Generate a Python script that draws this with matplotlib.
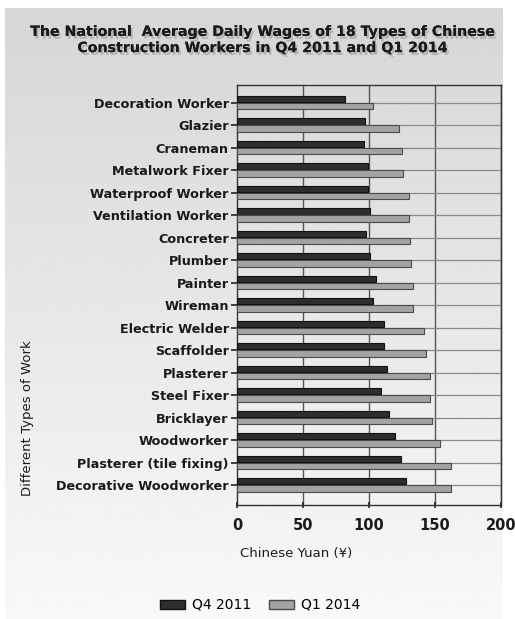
import numpy as np
import matplotlib
matplotlib.use("Agg")
import matplotlib.pyplot as plt
import matplotlib.patheffects as pe
from matplotlib.patches import Patch

# ---- data ----
work_types = [
    "Decoration Worker", "Glazier", "Craneman", "Metalwork Fixer",
    "Waterproof Worker", "Ventilation Worker", "Concreter", "Plumber",
    "Painter", "Wireman", "Electric Welder", "Scaffolder", "Plasterer",
    "Steel Fixer", "Bricklayer", "Woodworker", "Plasterer (tile fixing)",
    "Decorative Woodworker",
]
wage_q4_2011 = [82, 97, 96, 99, 99, 101, 98, 101, 105, 103, 111, 111, 114, 109, 115, 120, 124, 128]
wage_q1_2014 = [103, 123, 125, 126, 130, 130, 131, 132, 133, 133, 142, 143, 146, 146, 148, 154, 162, 162]
series_names = ["Q4 2011", "Q1 2014"]
x_ticks = [0, 50, 100, 150, 200]

W, H = 515, 619
fig = plt.figure(figsize=(W / 100, H / 100), dpi=100, facecolor="white")

# gradient backdrop
bg = fig.add_axes([5 / W, 0, (503 - 5) / W, (H - 8) / H], zorder=-5)
grad = np.linspace(0.84, 0.975, 256).reshape(-1, 1)
bg.imshow(grad, cmap="gray", vmin=0, vmax=1, aspect="auto", extent=[0, 1, 0, 1], origin="upper")
bg.axis("off")

ax = fig.add_axes([237 / W, 1 - 505 / H, 264 / W, 420 / H])
ax.patch.set_alpha(0)

y = np.arange(len(work_types))
h = 0.28
ax.barh(y - 0.17, wage_q4_2011, height=h, color="#2e2e2e", edgecolor="#111111", linewidth=0.8, zorder=3)
ax.barh(y + 0.15, wage_q1_2014, height=h, color="#a3a3a3", edgecolor="#4a4a4a", linewidth=0.8, zorder=3)

ax.set_xlim(0, 200)
ax.set_ylim(17.89, -0.79)
ax.set_xticks(x_ticks)
ax.set_yticks(y)
ax.set_yticklabels(work_types, fontsize=9.2, fontweight="bold", color="#1a1a1a")
ax.set_xticklabels([str(t) for t in x_ticks], fontsize=10.5, fontweight="bold", color="#1a1a1a")
ax.tick_params(axis="y", length=4, width=1.2, color="#222222", pad=2)
ax.tick_params(axis="x", length=4, width=1.2, color="#222222", direction="inout", pad=7)

for v in x_ticks[1:]:
    ax.axvline(v, color="#555555", linewidth=1.0, zorder=1)
for yy in y:
    ax.axhline(yy, color="#8a8a8a", linewidth=0.9, zorder=1)
for s in ax.spines.values():
    s.set_color("#333333")
    s.set_linewidth(1.0)

# title with a soft shadow
shadow = [pe.withSimplePatchShadow(offset=(1.5, -2), shadow_rgbFace="#9a9a9a", alpha=0.6), pe.Normal()]
fig.text(0.5 * (32 + 492) / W, 1 - 40 / H,
         "The National  Average Daily Wages of 18 Types of Chinese\nConstruction Workers in Q4 2011 and Q1 2014",
         ha="center", va="center", fontsize=10.2, fontweight="bold", color="#1a1a1a",
         linespacing=1.2, path_effects=shadow)

fig.text(27 / W, 1 - 418 / H, "Different Types of Work", rotation=90,
         ha="center", va="center", fontsize=9.5, color="#1a1a1a")
fig.text(240 / W, 1 - 553 / H, "Chinese Yuan (¥)", ha="left", va="center",
         fontsize=9.5, color="#1a1a1a")

handles = [Patch(facecolor="#2e2e2e", edgecolor="#111111"),
           Patch(facecolor="#a3a3a3", edgecolor="#4a4a4a")]
fig.legend(handles, series_names, loc="center", bbox_to_anchor=(260 / W, 1 - 605 / H),
           ncol=2, frameon=False, fontsize=10, handlelength=1.8, handleheight=0.6,
           columnspacing=1.3, handletextpad=0.5)

fig.savefig("out.png", dpi=100, facecolor="white")
